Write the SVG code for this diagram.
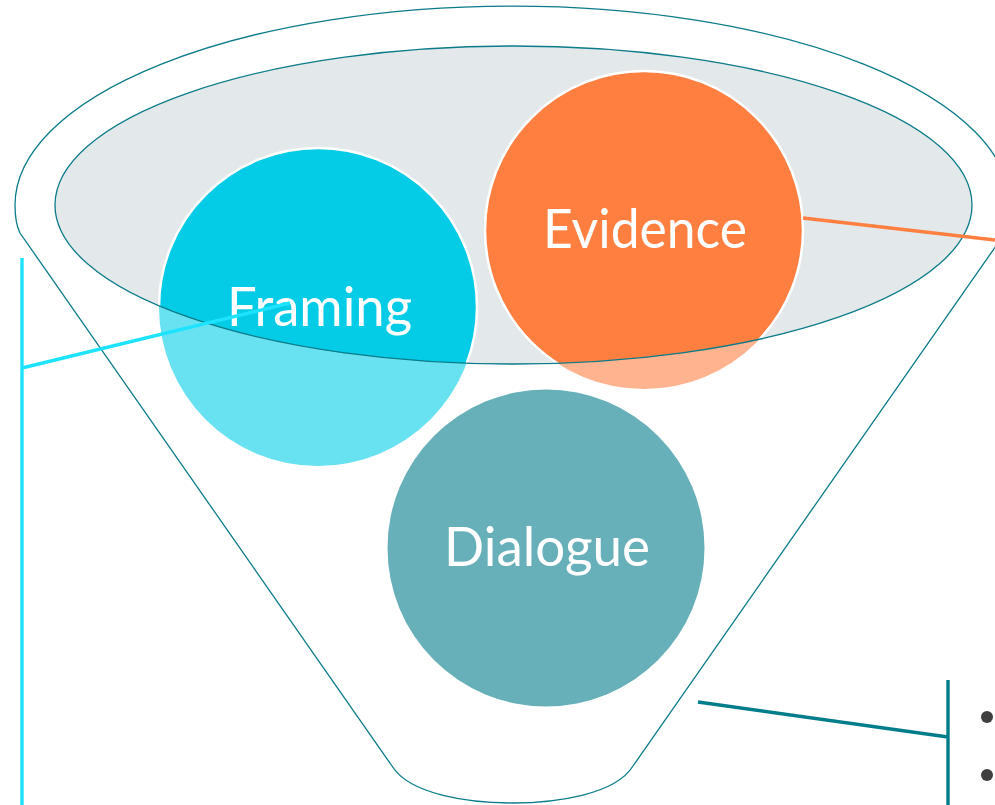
<svg xmlns="http://www.w3.org/2000/svg" width="995" height="805" viewBox="0 0 995 805">
  <style>
    .outline { fill: none; stroke: #0B7B89; stroke-width: 1.3; }
    .label { font-family: Lato, "Open Sans", "Liberation Sans", sans-serif; font-size: 55px; fill: #FFFFFF; text-anchor: middle; }
    .conn { fill: none; stroke-width: 3.4; }
  </style>
  <defs>
    <clipPath id="bowl">
      <ellipse cx="513.5" cy="205" rx="458.5" ry="159"/>
    </clipPath>
  </defs>
  <rect width="995" height="805" fill="#FFFFFF"/>
  <g id="funnel">
    <path class="outline" d="M 20 233 C 16 225 15 215 15 205 A 497.5 199 0 0 1 1010 205 C 1010 215 1009 225 1005 233 L 633 766 C 615 795 555 803 512.5 803 C 470 803 410 795 392 766 Z"/>
    <ellipse cx="513.5" cy="205" rx="458.5" ry="159" fill="#E3E9EB"/>
  </g>
  <g id="framing">
    <circle cx="318" cy="307" r="159" fill="#68E1F1"/>
    <circle cx="318" cy="307" r="159" fill="#04CBE6" stroke="#FFFFFF" stroke-width="2.5" clip-path="url(#bowl)"/>
  </g>
  <g id="evidence">
    <circle cx="644" cy="230" r="159" fill="#FFB38E"/>
    <circle cx="644" cy="230" r="159" fill="#FF7F41" stroke="#FFFFFF" stroke-width="2.5" clip-path="url(#bowl)"/>
  </g>
  <g id="dialogue">
    <circle cx="546" cy="548" r="158.5" fill="#67B0B9"/>
  </g>
  <ellipse class="outline" cx="513.5" cy="205" rx="458.5" ry="159"/>
  <g id="labels">
    <text class="label" x="319.5" y="326" textLength="185" lengthAdjust="spacingAndGlyphs">Framing</text>
    <text class="label" x="645" y="248" textLength="204" lengthAdjust="spacingAndGlyphs">Evidence</text>
    <text class="label" x="547" y="566" textLength="206" lengthAdjust="spacingAndGlyphs">Dialogue</text>
  </g>
  <g id="connectors">
    <path class="conn" stroke="#1EE3FF" d="M 22 258 L 22 805 M 22 368 L 290 303"/>
    <path class="conn" stroke="#FF7F41" d="M 803 218 L 995 240"/>
    <path class="conn" stroke="#007D8A" d="M 698 702 L 948 737 M 948 680 L 948 805"/>
  </g>
  <g id="bullets" fill="#3F3F3F">
    <circle cx="987" cy="717" r="6"/>
    <circle cx="987" cy="775" r="6"/>
  </g>
</svg>
